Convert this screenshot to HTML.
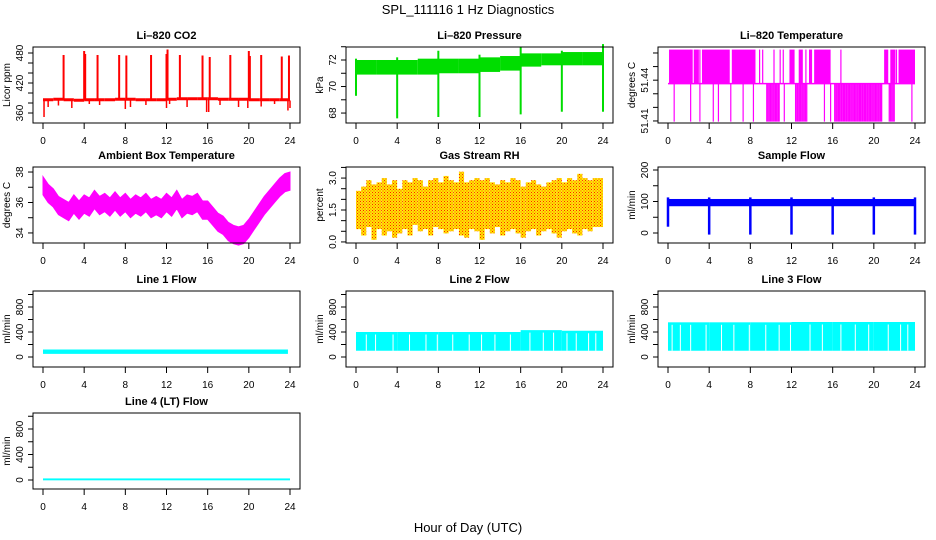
<!DOCTYPE html>
<html><head><meta charset="utf-8">
<style>
html,body{margin:0;padding:0;background:#fff;}
svg{display:block;font-family:"Liberation Sans",Arial,sans-serif;}
</style></head>
<body>
<svg id="chart" width="936" height="540" viewBox="0 0 936 540">
<defs>
<pattern id="rhpat" width="3" height="3" patternUnits="userSpaceOnUse">
<rect width="3" height="3" fill="#ffe800"/>
<rect x="0" y="0" width="1" height="1" fill="#ff2000"/>
<rect x="1.5" y="1.5" width="1" height="1" fill="#ff4000"/>
</pattern>
</defs>
<text x="468" y="14" text-anchor="middle" font-size="13">SPL_111116  1 Hz Diagnostics</text>
<text x="468" y="532" text-anchor="middle" font-size="13">Hour of Day (UTC)</text>
</svg>
<script>
// ---------- data ----------
const hourTicks=[0,4,8,12,16,20,24];
// CO2
const co2BaseHours=[0,1,2,3,4,5,6,7,8,9,10,11,12,13,14,15,16,17,18,19,20,21,22,23,24];
const co2Base=[386,387,386,385,386,386,386,387,387,386,386,386,387,388,388,388,388,387,387,387,386,386,386,386,385];
const co2SpikeHours=[2,4,4.1,5.3,7.4,8.1,10.5,12,12.1,13.3,15.5,16.2,18.2,20,20.1,21.2,23.2,23.9];
const co2SpikeVals=[476,484,478,476,476,475,476,478,487,476,475,472,476,484,474,476,473,475];
const co2DipHours=[0.1,0.5,1.5,2.8,4.5,5.5,8,8.5,10,12,12.3,14,15.9,16.1,17.2,19,19.9,21.2,22.5,23.8,24];
const co2DipVals=[352,372,375,370,378,376,368,372,376,370,378,372,362,362,376,372,370,373,378,365,370];
// Pressure
const presHours=[0,2,4,6,8,10,12,14,16,18,20,22,24];
const presLow=[70.9,70.9,70.9,70.9,71.0,71.0,71.1,71.2,71.5,71.6,71.6,71.6,71.6];
const presHigh=[72.0,72.0,72.0,72.1,72.1,72.1,72.2,72.3,72.5,72.5,72.6,72.6,72.7];
const presDropHours=[0,4,8,12,16,20,24];
const presDropVals=[69.3,67.6,67.7,67.7,67.9,68.1,68.1];
const presPeakVals=[72.1,72.2,72.7,72.4,73.0,72.7,73.2];
// Li-820 temperature
const tMid=51.4375, tHigh=51.4625, tLow=51.4095;
const tUpBlocks=[[0.1,2.4],[2.5,3.0],[3.3,6.0],[6.2,8.5],[11.8,12.3],[12.7,13.1],[13.7,14.0],[14.2,15.8],[21.0,21.4],[21.6,22.1],[22.4,24.0]];
const tUpLines=[2.2,3.1,8.9,9.2,10.3,10.9,11.2,13.4,16.8,22.2];
const tDownBlocks=[[9.6,10.9],[12.4,13.5],[16.2,20.8],[21.5,22.0]];
const tDownLines=[0.6,2.2,3.1,4.4,4.9,6.1,7.3,8.3,11.3,15.2,15.8,23.7];
// Ambient box temperature (half-hourly centers)
const ambHours=[0,0.5,1,1.5,2,2.5,3,3.5,4,4.5,5,5.5,6,6.5,7,7.5,8,8.5,9,9.5,10,10.5,11,11.5,12,12.5,13,13.5,14,14.5,15,15.5,16,16.5,17,17.5,18,18.5,19,19.5,20,20.5,21,21.5,22,22.5,23,23.5,24];
const ambCenter=[37.1,36.6,36.3,35.8,35.6,35.4,35.9,35.5,35.9,35.7,36.2,35.8,36.0,35.7,36.1,35.7,36.0,35.6,35.9,35.7,36.0,35.6,35.8,35.6,36.0,35.7,36.2,35.6,35.9,35.8,36.0,35.5,35.5,35.1,34.7,34.5,34.1,33.9,33.8,33.9,34.3,34.8,35.3,35.8,36.2,36.6,37.0,37.3,37.4];
const ambHalfWidth=0.6;
// Gas stream RH (half-hourly)
const rhHours=[0,0.5,1,1.5,2,2.5,3,3.5,4,4.5,5,5.5,6,6.5,7,7.5,8,8.5,9,9.5,10,10.5,11,11.5,12,12.5,13,13.5,14,14.5,15,15.5,16,16.5,17,17.5,18,18.5,19,19.5,20,20.5,21,21.5,22,22.5,23,23.5];
const rhHigh=[2.4,2.6,2.9,2.7,2.8,3.0,2.7,2.9,2.5,2.9,2.8,3.0,2.9,2.6,2.9,3.0,2.8,3.1,2.9,2.8,3.3,2.8,2.9,3.0,2.9,3.0,2.8,2.7,2.9,2.8,3.0,2.9,2.6,2.8,2.9,2.7,2.6,2.8,2.9,3.0,2.8,3.0,2.9,3.2,3.0,2.9,3.0,3.0];
const rhLow=[0.6,0.3,0.7,0.1,0.6,0.3,0.5,0.2,0.4,0.6,0.3,0.8,0.5,0.6,0.3,0.7,0.6,0.4,0.5,0.6,0.3,0.2,0.6,0.5,0.1,0.6,0.4,0.7,0.3,0.5,0.6,0.4,0.2,0.5,0.6,0.3,0.5,0.6,0.4,0.2,0.5,0.6,0.4,0.3,0.6,0.5,0.7,0.7];
// Sample flow
const sfLow=85, sfHigh=108;
const sfDropHours=[0,4,8,12,16,20,24];
const sfDropVals=[20,-5,-5,-5,-5,-5,-5];
// Line flows
const l1Low=50, l1High=120;
const l2Low=100, l2High=[400,400,400,400,430,420];
const l3Low=100, l3High=[555,555,555,560,560,560];
const segHours=[0,4,8,12,16,20,24];
const l2Gaps=[1.0,1.9,3.6,5.2,6.8,7.9,9.4,11.0,12.2,13.5,15.0,16.9,18.2,19.2,20.5,21.4,22.6,23.3];
const l3Gaps=[0.4,1.2,2.2,3.7,5.2,6.4,7.9,9.5,10.8,11.9,13.8,15.0,16.8,18.2,19.5,21.4,22.6,23.3];
const l4Value=10;

// ---------- layout ----------
const svg=document.getElementById('chart');
const NS='http://www.w3.org/2000/svg';
const cols=[33,346,658], W=267, rows=[47,167,291,413], H=76;
function el(tag,attrs,parent){const e=document.createElementNS(NS,tag);for(const k in attrs)e.setAttribute(k,attrs[k]);(parent||svg).appendChild(e);return e;}

function panel(name,c,r,ymin,ymax,ticks,labels,title,ylab){
  const left=cols[c], top=rows[r];
  const g=el('g',{});
  
  
  const x=h=>left+10+h*(W-20)/24;
  const y=v=>top+H-(v-ymin)/(ymax-ymin)*H;
  const data=el('g',{},g);
  
  
  const box=el('rect',{x:left,y:top,width:W,height:H,fill:'none',stroke:'#000','stroke-width':1},g);
  
  
  const t=el('text',{x:left+W/2,y:top-8,'text-anchor':'middle','font-size':11,'font-weight':'bold'},g);
  t.textContent=title;
  
  
  const yl=el('text',{transform:`translate(${left-23},${top+H/2}) rotate(-90)`,'text-anchor':'middle','font-size':10},g);
  yl.textContent=ylab;
  
  
  ticks.forEach(v=>{
    el('line',{x1:left-5,x2:left,y1:y(v),y2:y(v),stroke:'#000'},g);
  });
  labels.forEach(v=>{
    const tl=el('text',{transform:`translate(${left-10},${y(v[0])}) rotate(-90)`,'text-anchor':'middle','font-size':10},g);
    tl.textContent=v[1];
    
    
  });
  hourTicks.forEach(h=>{
    el('line',{x1:x(h),x2:x(h),y1:top+H,y2:top+H+6,stroke:'#000'},g);
    const xl=el('text',{x:x(h),y:top+H+21,'text-anchor':'middle','font-size':10},g);
    xl.textContent=h;
    
    
  });
  return {x,y,g:data,top,left};
}
function vline(p,h,v1,v2,col,w){
  const l=el('line',{x1:p.x(h),x2:p.x(h),y1:p.y(v1),y2:p.y(v2),stroke:col,'stroke-width':w||1.5},p.g);
  
  
  return l;
}
function rect(p,h1,h2,v1,v2,fill){
  const a=p.x(h1),b=p.x(h2),c=p.y(v2),d=p.y(v1);
  const rr=el('rect',{x:Math.min(a,b),y:Math.min(c,d),width:Math.abs(b-a),height:Math.abs(d-c),fill:fill},p.g);
  
  
  return rr;
}
function range(a,b,s){const o=[];for(let v=a;v<=b+1e-9;v+=s)o.push(+v.toFixed(4));return o;}

// ---- CO2 ----
{const p=panel('co2',0,0,340,492,range(360,480,20),[[360,'360'],[420,'420'],[480,'480']],'Li\u2013820 CO2','Licor ppm');
 for(let i=0;i<co2BaseHours.length-1;i++) rect(p,co2BaseHours[i],co2BaseHours[i+1],co2Base[i]-2.5,co2Base[i]+3.5,'#ff0000');
 co2SpikeHours.forEach((h,i)=>vline(p,h,co2Base[Math.round(h)],co2SpikeVals[i],'#ff0000',2));
 co2DipHours.forEach((h,i)=>vline(p,h,co2Base[Math.round(h)],co2DipVals[i],'#ff0000',1.5));}
// ---- Pressure ----
{const p=panel('pressure',1,0,67.25,72.98,range(68,73,1),[[68,'68'],[70,'70'],[72,'72']],'Li\u2013820 Pressure','kPa');
 for(let i=0;i<presHours.length-1;i++) rect(p,presHours[i],presHours[i+1],presLow[i],presHigh[i],'#00dd00');
 presDropHours.forEach((h,i)=>{vline(p,h,presDropVals[i],presPeakVals[i],'#00dd00',2);});}
// ---- Li-820 temperature ----
{const p=panel('licor-temp',2,0,51.4085,51.4644,range(51.41,51.46,0.01),[[51.41,'51.41'],[51.44,'51.44']],'Li\u2013820 Temperature','degrees C');
 const base=el('line',{x1:p.x(0),x2:p.x(24),y1:p.y(tMid),y2:p.y(tMid),stroke:'#ff00ff','stroke-width':1.5},p.g);
 
 
 tUpBlocks.forEach(b=>rect(p,b[0],b[1],tMid,tHigh,'#ff00ff'));
 tUpLines.forEach(h=>vline(p,h,tMid,tHigh,'#ff00ff',1.2));
 tDownBlocks.forEach(b=>{for(let h=b[0];h<=b[1];h+=0.12) vline(p,h,tMid,tLow,'#ff00ff',1.3);});
 tDownLines.forEach(h=>vline(p,h,tMid,tLow,'#ff00ff',1.2));}
// ---- Ambient ----
{const p=panel('ambient-temp',0,1,33.34,38.33,range(34,38,1),[[34,'34'],[36,'36'],[38,'38']],'Ambient Box Temperature','degrees C');
 let up=ambHours.map((h,i)=>p.x(h)+','+p.y(ambCenter[i]+ambHalfWidth)).join(' ');
 let dn=ambHours.map((h,i)=>p.x(h)+','+p.y(ambCenter[i]-ambHalfWidth)).reverse().join(' ');
 const poly=el('polygon',{points:up+' '+dn,fill:'#ff00ff',stroke:'#ff00ff','stroke-width':1},p.g);
 
 }
// ---- RH ----
{const p=panel('gas-rh',1,1,-0.05,3.52,range(0,3.5,0.5),[[0,'0.0'],[1.5,'1.5'],[3,'3.0']],'Gas Stream RH','percent');
 rhHours.forEach((h,i)=>rect(p,h,h+0.5,rhLow[i],rhHigh[i],'url(#rhpat)'));}
// ---- Sample flow ----
{const p=panel('sample-flow',2,1,-31.7,209.5,range(0,200,50),[[0,'0'],[100,'100'],[200,'200']],'Sample Flow','ml/min');
 rect(p,0,24,sfLow,sfHigh,'#0000ff');
 sfDropHours.forEach((h,i)=>{vline(p,h,sfDropVals[i],sfHigh+5,'#0000ff',2.5);});}
// ---- Line flows ----
const flowTicks=range(0,1000,200), flowLabels=[[0,'0'],[400,'400'],[800,'800']];
{const p=panel('line1-flow',0,2,-160,1056,flowTicks,flowLabels,'Line 1 Flow','ml/min');
 rect(p,0,23.8,l1Low,l1High,'#00ffff');}
{const p=panel('line2-flow',1,2,-160,1056,flowTicks,flowLabels,'Line 2 Flow','ml/min');
 for(let i=0;i<segHours.length-1;i++) rect(p,segHours[i],segHours[i+1],l2Low,l2High[i],'#00ffff');
 l2Gaps.forEach(h=>vline(p,h,l2Low,l2High[Math.min(5,Math.floor(h/4))]-40,'#ffffff',1));}
{const p=panel('line3-flow',2,2,-160,1056,flowTicks,flowLabels,'Line 3 Flow','ml/min');
 for(let i=0;i<segHours.length-1;i++) rect(p,segHours[i],segHours[i+1],l3Low,l3High[i],'#00ffff');
 l3Gaps.forEach(h=>vline(p,h,l3Low,l3High[Math.min(5,Math.floor(h/4))]-40,'#ffffff',1));}
{const p=panel('line4-flow',0,3,-141,1051,flowTicks,flowLabels,'Line 4 (LT) Flow','ml/min');
 rect(p,0,24,l4Value-15,l4Value+15,'#00ffff');}
</script>
</body></html>
